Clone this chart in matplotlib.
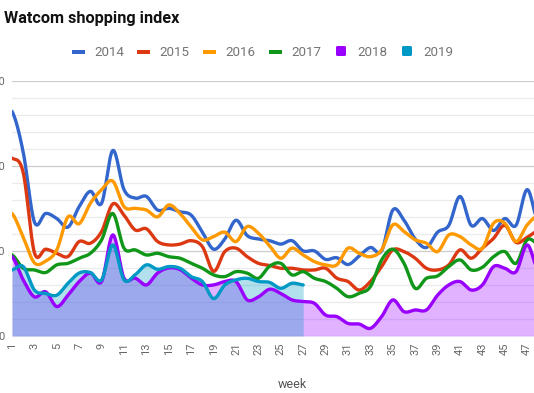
import numpy as np
import matplotlib.pyplot as plt
from matplotlib.patches import Rectangle, FancyBboxPatch

plt.rcParams['font.family'] = ['Roboto', 'DejaVu Sans']

# weekly index values (weeks 1..48, 2019 only to week 27)
weeks = list(range(1, 49))
y2014 = [132, 108, 67, 72, 69, 64, 76, 85, 78, 109, 86, 81,
         82, 74, 75, 73, 71, 61, 51, 57, 68, 59, 57, 56,
         54, 56, 50, 50, 45, 46, 42, 47, 52, 50, 74, 68,
         57, 52, 61, 65, 82, 65, 69, 62, 69, 65, 86, 66]
y2015 = [104.5, 96, 49, 51, 48.6, 46.7, 55.5, 54.5, 61.4, 77.6, 71, 62.3,
         63, 55.5, 53.5, 54, 56, 52.5, 38, 49.6, 51.6, 46.6, 42.7, 41.5,
         39.8, 39.8, 38.8, 38.8, 39.8, 34, 32, 27, 32, 40.8, 50.6, 49.6,
         45.7, 39.8, 38.8, 41.8, 50.6, 45.7, 51.6, 57.4, 65, 55, 58, 62]
y2016 = [72, 58, 43, 44, 50.6, 70, 66, 78, 86, 91, 76, 75,
         74, 70, 77, 72, 64, 56.5, 58.4, 61, 55.5, 64.3, 60.4, 53,
         45.7, 51.6, 47.6, 43.7, 41.8, 41.8, 51.6, 48.6, 46.6, 50.6, 65.3, 61.4,
         56.5, 54.5, 49.6, 59.4, 58.4, 53.5, 51.6, 66.3, 66.3, 55.5, 65.3, 71]
y2017 = [47.7, 39.8, 38.8, 37.3, 41.8, 42.7, 45.7, 48.6, 56.5, 72, 51.6, 50.6,
         47.6, 48.6, 46.6, 45.7, 42.7, 39.8, 35.9, 34.9, 37.8, 36.9, 33.9, 41,
         42.7, 35.9, 37.8, 33.9, 32, 28, 23.1, 25.1, 29, 44.7, 51, 42.7,
         28, 33.9, 35.3, 40.8, 44.7, 38.8, 40.4, 46.6, 49.6, 42.7, 56.5, 54]
y2018 = [46.7, 33, 23, 26, 17.3, 24, 32, 37, 32, 59.4, 34, 34,
         30, 37, 40, 39, 34, 30, 30, 32, 32, 21.2, 23, 27.5,
         25, 21.2, 20.2, 19.2, 12.3, 11.4, 7.4, 7, 4.5, 11.4, 21.2, 14.3,
         15.3, 15.3, 24, 30, 32, 27, 30, 40.8, 39.8, 37.8, 53.5, 38]
y2019 = [38.8, 40.8, 27, 25, 24, 31, 37, 37.3, 33, 53.5, 33, 36,
         41.8, 39.2, 40.8, 39.8, 34.9, 32, 22, 30, 33, 33.9, 32, 31.5,
         28, 31, 30]

line_series = [('2014', y2014, '#3366cc'), ('2015', y2015, '#dc3912'),
               ('2016', y2016, '#ff9900'), ('2017', y2017, '#109618')]
area_series = [('2018', y2018, '#9900ff'), ('2019', y2019, '#0099c6')]


def smooth(x, y, n=16):
    # catmull-rom through the points, like the "function" curve type
    x = np.asarray(x, float)
    y = np.asarray(y, float)
    px = np.concatenate([[2 * x[0] - x[1]], x, [2 * x[-1] - x[-2]]])
    py = np.concatenate([[y[0]], y, [y[-1]]])
    xs, ys = [], []
    t = np.linspace(0, 1, n, endpoint=False)
    for i in range(1, len(px) - 2):
        for p, out in ((px, xs), (py, ys)):
            p0, p1, p2, p3 = p[i - 1], p[i], p[i + 1], p[i + 2]
            out.append(0.5 * (2 * p1 + (-p0 + p2) * t
                              + (2 * p0 - 5 * p1 + 4 * p2 - p3) * t ** 2
                              + (-p0 + 3 * p1 - 3 * p2 + p3) * t ** 3))
    xs.append([x[-1]])
    ys.append([y[-1]])
    return np.concatenate(xs), np.concatenate(ys)


W, H = 534, 393
fig = plt.figure(figsize=(W / 100, H / 100), dpi=100)
left, top, bottom, step = 12, 80.7, 336, 11.2
ax = fig.add_axes([left / W, (H - bottom) / H, 48 * step / W, (bottom - top) / H])
ax.set_xlim(1, 49)
ax.set_ylim(0, 150)

for name, vals, col in area_series:
    xs, ys = smooth(weeks[:len(vals)], vals)
    ax.fill_between(xs, 0, ys, color=col, alpha=0.3, lw=0, zorder=1)

for name, vals, col in line_series + area_series:
    xs, ys = smooth(weeks[:len(vals)], vals)
    ax.plot(xs, ys, color=col, lw=2.4, solid_capstyle='round', zorder=3)

ax.set_yticks([0, 50, 100, 150])
ax.set_yticks(np.arange(0, 151, 10), minor=True)
ax.set_yticklabels(['0', '50', '100', '150'])
ax.grid(axis='y', which='major', color='#cccccc', lw=0.9, zorder=0)
ax.grid(axis='y', which='minor', color='#ebebeb', lw=0.9, zorder=0)
ax.set_xticks(weeks[::2])
ax.set_xticklabels([str(w) for w in weeks[::2]], rotation=90)
ax.tick_params(axis='both', which='both', length=0, labelsize=8, colors='#666666')
ax.tick_params(axis='y', pad=5)
ax.tick_params(axis='x', pad=5)
for s in ax.spines.values():
    s.set_visible(False)
ax.set_axisbelow(True)

# overlay in pixel coordinates for title, legend and axis title
ov = fig.add_axes([0, 0, 1, 1], facecolor='none')
ov.set_xlim(0, W)
ov.set_ylim(H, 0)
ov.axis('off')
ov.text(4, 18, 'Watcom shopping index', fontsize=11.7, fontweight='bold',
        color='#111111', va='center', ha='left')
ov.text(292, 384, 'week', fontsize=9, color='#555555', ha='center', va='center')

leg_x = [72, 137, 203, 269, 335, 401]
for (name, vals, col), lx in zip(line_series + area_series, leg_x):
    if name in ('2018', '2019'):
        ov.add_patch(FancyBboxPatch((lx + 1, 46), 10, 10, boxstyle='round,pad=0,rounding_size=1.5',
                                    fc=col, ec='none'))
    else:
        ov.add_patch(Rectangle((lx, 50), 13, 3.5, fc=col, ec='none'))
    ov.text(lx + 22, 52, name, fontsize=9.6, color='#757575', va='center', ha='left')

fig.savefig('out.png', dpi=100)
